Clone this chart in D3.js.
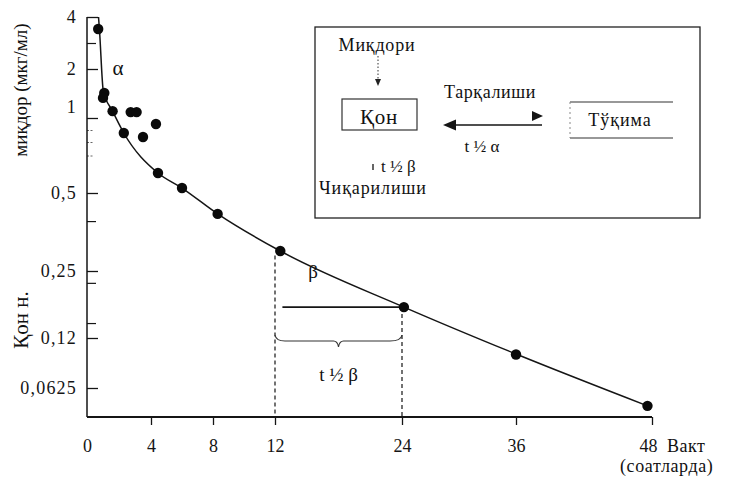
<!DOCTYPE html>
<html><head><meta charset="utf-8">
<script src="https://cdn.jsdelivr.net/npm/d3@7"></script>
<style>
body{margin:0;background:#fff}
text{font-family:'Liberation Serif','Times New Roman',Times,'DejaVu Serif',serif !important;fill:#111}
</style></head><body>
<svg id="c" width="729" height="481"></svg>
<script>
// ---- data ----
const xTicks = [0, 4, 8, 12, 24, 36, 48];
const yTicks = [4, 2, 1, 0.5, 0.25, 0.12, 0.0625];
const yMinorTicks = [3, 0.41, 0.227, 0.149];
const yFaintTicks = [0.92, 0.84, 0.75];
const times = [0.7, 1.08, 1.0, 1.6, 2.73, 3.1, 4.32, 2.3, 3.5, 4.45, 6.0, 8.3, 12.5, 24.2, 36, 47.6];
const concentrations = [3.54, 1.51, 1.41, 1.14, 1.12, 1.12, 0.96, 0.9, 0.873, 0.633, 0.533, 0.433, 0.314, 0.18, 0.101, 0.042];
const fitTimes = [0.72, 0.78, 1.02, 1.6, 2.3, 4.45, 6.0, 8.3, 12.5, 24.2, 36, 47.6];
const fitConc = [4.0, 3.5, 1.55, 1.14, 0.9, 0.633, 0.533, 0.433, 0.314, 0.18, 0.1016, 0.042];
const halfStart = 12, halfEnd = 24, halfTopConc = 0.30, halfLevel = 0.18, halfLineStart = 12.7;

// ---- layout ----
const xRange = [87, 151, 213, 275, 402, 516, 652];
const yRange = [17, 69, 118, 193, 271, 338, 388];
const baseY = 417;
const ink = "#151515";
const serif = "'Liberation Serif','Times New Roman',Times,serif";

const x = d3.scaleLinear().domain(xTicks).range(xRange);
const y = d3.scaleLinear().domain(yTicks).range(yRange);
const svg = d3.select("#c");
const fmt = d => String(d).replace(".", ",");

// y axis ticks + labels
const yAx = svg.append("g").attr("transform", `translate(${x(0)},0)`)
  .call(d3.axisLeft(y).tickValues(yTicks).tickSize(-11).tickSizeOuter(0).tickPadding(10).tickFormat(fmt));
yAx.select(".domain").remove();
yAx.attr("font-size", 18).attr("font-family", serif);
yAx.selectAll("line").attr("stroke", ink).attr("stroke-width", 1.3);
yAx.selectAll("text").attr("letter-spacing", 1.2).style("fill", ink);
yAx.selectAll(".tick").filter(d => d === 1).select("text").attr("y", -11);

const yMin = svg.append("g").attr("transform", `translate(${x(0)},0)`)
  .call(d3.axisLeft(y).tickValues(yMinorTicks).tickSize(-9).tickSizeOuter(0).tickFormat(""));
yMin.select(".domain").remove();
yMin.selectAll("line").attr("stroke", ink).attr("stroke-width", 1.2);
const yFaint = svg.append("g").attr("transform", `translate(${x(0)},0)`)
  .call(d3.axisLeft(y).tickValues(yFaintTicks).tickSize(-7).tickSizeOuter(0).tickFormat(""));
yFaint.select(".domain").remove();
yFaint.selectAll("line").attr("stroke", "#666").attr("stroke-width", 1).attr("stroke-dasharray", "2,1.5");

// x axis
const xAx = svg.append("g").attr("transform", `translate(0,${baseY})`)
  .call(d3.axisBottom(x).tickValues(xTicks).tickSize(8).tickSizeOuter(0).tickPadding(14).tickFormat(d3.format("d")));
xAx.select(".domain").remove();
xAx.attr("font-size", 18).attr("font-family", serif);
xAx.selectAll("line").attr("stroke", ink).attr("stroke-width", 1.3);
xAx.selectAll(".tick").filter(d => d === 0).select("line").remove();
xAx.selectAll(".tick").filter(d => d === 48).select("text").attr("x", -4);
xAx.selectAll("text").style("fill", ink);

// axis lines
svg.append("line").attr("x1", x(0)).attr("x2", x(0)).attr("y1", y(4)).attr("y2", baseY)
  .attr("stroke", ink).attr("stroke-width", 1.5);
svg.append("line").attr("x1", x(0)).attr("x2", x(48)).attr("y1", baseY).attr("y2", baseY)
  .attr("stroke", ink).attr("stroke-width", 1.8);

// axis titles
svg.append("text").attr("transform", "translate(27,90) rotate(-90)").attr("text-anchor", "middle")
  .attr("font-size", 19).text("миқдор (мкг/мл)");
svg.append("text").attr("transform", "translate(28,320) rotate(-90)").attr("text-anchor", "middle")
  .attr("font-size", 21).text("Қон н.");
svg.append("text").attr("x", 667).attr("y", 452).attr("font-size", 18).attr("letter-spacing", 0.5).text("Вакт");
svg.append("text").attr("x", 620).attr("y", 472).attr("font-size", 18).attr("letter-spacing", 0.6).text("(соатларда)");

// fitted curve
const fit = fitTimes.map((t, i) => [t, fitConc[i]]);
svg.append("path").datum(fit)
  .attr("d", d3.line().x(d => x(d[0])).y(d => y(d[1])).curve(d3.curveMonotoneX))
  .attr("fill", "none").attr("stroke", ink).attr("stroke-width", 1.5);

// half-life construction
svg.append("line").attr("x1", x(halfStart)).attr("x2", x(halfStart)).attr("y1", y(halfTopConc)).attr("y2", baseY)
  .attr("stroke", ink).attr("stroke-width", 1.2).attr("stroke-dasharray", "4,3");
svg.append("line").attr("x1", x(halfEnd)).attr("x2", x(halfEnd)).attr("y1", y(halfLevel)).attr("y2", baseY)
  .attr("stroke", ink).attr("stroke-width", 1.2).attr("stroke-dasharray", "4,3");
svg.append("line").attr("x1", x(halfLineStart)).attr("x2", x(halfEnd)).attr("y1", y(halfLevel)).attr("y2", y(halfLevel))
  .attr("stroke", ink).attr("stroke-width", 1.6);
{
  const a = x(halfStart), b = x(halfEnd), m = (a + b) / 2, by = 341;
  const p = d3.path();
  p.moveTo(a, by - 6);
  p.quadraticCurveTo(a + 1, by, a + 10, by);
  p.lineTo(m - 5, by);
  p.quadraticCurveTo(m - 1, by, m, by + 6);
  p.quadraticCurveTo(m + 1, by, m + 5, by);
  p.lineTo(b - 12, by);
  p.quadraticCurveTo(b - 1, by, b, by - 6);
  svg.append("path").attr("d", p.toString()).attr("fill", "none").attr("stroke", "#333").attr("stroke-width", 1.1);
}
svg.append("text").attr("x", (x(halfStart) + x(halfEnd)) / 2).attr("y", 381).attr("text-anchor", "middle")
  .attr("font-size", 19).text("t ½ β");
svg.append("text").attr("x", 313).attr("y", 278).attr("text-anchor", "middle").attr("font-size", 19).text("β");
svg.append("text").attr("x", 118).attr("y", 75).attr("text-anchor", "middle").attr("font-size", 21).text("α");

// data points
svg.append("g").selectAll("circle").data(times.map((t, i) => [t, concentrations[i]])).join("circle")
  .attr("cx", d => x(d[0])).attr("cy", d => y(d[1])).attr("r", 5.2).attr("fill", "#0a0a0a");

// inset diagram
const ins = svg.append("g");
ins.append("rect").attr("x", 315).attr("y", 27).attr("width", 385).attr("height", 191)
  .attr("fill", "none").attr("stroke", "#222").attr("stroke-width", 1.3);
ins.append("text").attr("x", 377).attr("y", 51).attr("text-anchor", "middle").attr("font-size", 18).attr("letter-spacing", 0.8).text("Миқдори");
ins.append("line").attr("x1", 378).attr("x2", 378).attr("y1", 56).attr("y2", 80)
  .attr("stroke", "#333").attr("stroke-width", 1).attr("stroke-dasharray", "1.5,2");
ins.append("path").attr("d", "M375,79L381,79L378,86Z").attr("fill", "#222");
ins.append("rect").attr("x", 342).attr("y", 99).attr("width", 75).attr("height", 31)
  .attr("fill", "none").attr("stroke", "#333").attr("stroke-width", 1.2);
ins.append("text").attr("x", 379).attr("y", 124).attr("text-anchor", "middle").attr("font-size", 21).attr("letter-spacing", 0.8).text("Қон");
ins.append("text").attr("x", 490).attr("y", 98).attr("text-anchor", "middle").attr("font-size", 18).attr("letter-spacing", 0.6).text("Тарқалиши");
ins.append("line").attr("x1", 450).attr("x2", 542).attr("y1", 125).attr("y2", 125).attr("stroke", ink).attr("stroke-width", 1.5);
ins.append("path").attr("d", "M443,125L456,119.5L456,130.5Z").attr("fill", ink);
ins.append("path").attr("d", "M532,111L543,116L532,121Z").attr("fill", ink);
ins.append("text").attr("x", 482).attr("y", 152).attr("text-anchor", "middle").attr("font-size", 17).text("t ½ α");
ins.append("line").attr("x1", 570).attr("x2", 673).attr("y1", 102).attr("y2", 102).attr("stroke", "#333").attr("stroke-width", 1.2);
ins.append("line").attr("x1", 570).attr("x2", 673).attr("y1", 138).attr("y2", 138).attr("stroke", "#333").attr("stroke-width", 1.2);
ins.append("line").attr("x1", 570).attr("x2", 570).attr("y1", 102).attr("y2", 138).attr("stroke", "#888").attr("stroke-width", 1).attr("stroke-dasharray", "2,3");
ins.append("text").attr("x", 620).attr("y", 126).attr("text-anchor", "middle").attr("font-size", 18).attr("letter-spacing", 1).text("Тўқима");
ins.append("line").attr("x1", 373).attr("x2", 373).attr("y1", 164).attr("y2", 170).attr("stroke", "#333").attr("stroke-width", 1.5);
ins.append("text").attr("x", 381).attr("y", 172).attr("font-size", 17).text("t ½ β");
ins.append("text").attr("x", 319).attr("y", 194).attr("font-size", 18).attr("letter-spacing", 0.9).text("Чиқарилиши");
</script>
</body></html>
